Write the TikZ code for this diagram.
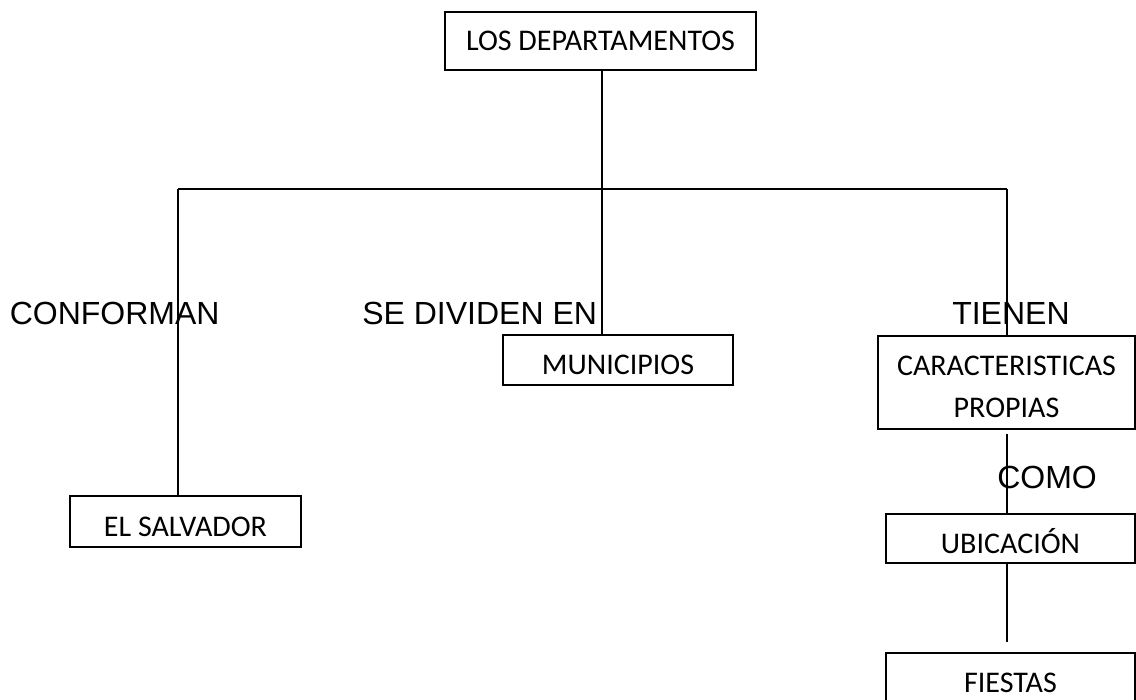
\documentclass[tikz,border=0pt]{standalone}
\usepackage{fontspec}
\setmainfont{Carlito}
\newfontfamily\arialfont{Liberation Sans}
\usepackage{tikz}
\usetikzlibrary{positioning, calc}

\tikzset{
    caja/.style={draw, line width=1.1pt, inner sep=0pt, font=\fontsize{22.5}{31.5}\selectfont},
    cajatexto/.style={text height=24pt, text depth=2pt},
    enlace/.style={line width=1.1pt},
    rotulo/.style={inner sep=0pt, anchor=base west, font=\arialfont\fontsize{24}{28}\selectfont}
}

\begin{document}
\begin{tikzpicture}[x=0.75pt,y=-0.75pt]

        % Marco de la imagen
        \useasboundingbox (0,0) rectangle (1136,700);
        \clip (0,0) rectangle (1136,700);

        % Cajas
        \node[caja, minimum width=233.25pt, minimum height=43.5pt] (dep) at (600.5,41) {LOS DEPARTAMENTOS}; % Caja superior
        \node[caja, cajatexto, minimum width=172.5pt, minimum height=37.5pt] (muni) at (618,360) {MUNICIPIOS};
        \node[caja, cajatexto, minimum width=173.25pt, minimum height=38.25pt] (salv) at (185.5,521.5) {EL SALVADOR};
        \node[caja, align=center, minimum width=192.75pt, minimum height=69.75pt] (carac) at (1006.5,382.5) {\rule{0pt}{21pt}CARACTERISTICAS\\PROPIAS};
        \node[caja, cajatexto, minimum width=186.75pt, minimum height=36.75pt] (ubic) at (1010.5,538.5) {UBICACIÓN};
        \node[caja, cajatexto, minimum width=186.75pt, minimum height=36.75pt] (fiestas) at (1010.5,677.5) {FIESTAS};

        % Puntos de la linea horizontal
        \coordinate (jl) at (178,189);
        \coordinate (jm) at (602,189);
        \coordinate (jr) at (1007,189);

        % Rotulos de las lineas
        \node[rotulo] (conforman) at (9.5,324) {CONFORMAN};
        \node[rotulo] (divide) at (362,324) {SE DIVIDEN EN};
        \node[rotulo] (tienen) at (952,324) {TIENEN};
        \node[rotulo] (como) at (997,488) {COMO};

        % Lineas
        \draw[enlace] (dep.south -| jm) -- (muni.north -| jm); % Linea central
        \draw[enlace] (jl) -- (jr); % Linea horizontal
        \draw[enlace] (jl) -- (salv.north -| jl); % Hacia EL SALVADOR
        \draw[enlace] (jr) -- (carac.north -| jr); % Hacia CARACTERISTICAS
        \draw[enlace, shorten <=3.5pt] (carac.south -| jr) -- (ubic.north -| jr);
        \draw[enlace, shorten >=7.5pt] (ubic.south -| jr) -- (fiestas.north -| jr);

\end{tikzpicture}
\end{document}
